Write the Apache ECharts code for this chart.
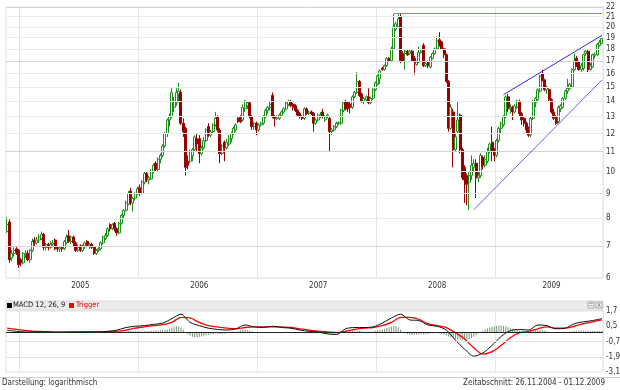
<!DOCTYPE html>
<html><head><meta charset="utf-8">
<script src="https://cdn.jsdelivr.net/npm/echarts@6/dist/echarts.min.js"></script>
<style>html,body{margin:0;padding:0;background:#fff}#c{width:620px;height:390px}</style>
</head><body><div id="c"></div>
<script>
// weekly candles, 26.11.2004 - 01.12.2009
const startDate = [2004, 10, 26];
const opens = [
7.5,7.85,6.6,6.75,6.9,6.85,6.55,6.45,6.7,6.75,
6.55,6.85,7.2,7.1,7.2,7.25,7.4,6.95,7.05,6.95,
7.05,7.2,6.95,6.9,6.95,6.9,7.1,7.35,7.15,7.3,
7.1,6.85,7.0,6.85,7.0,7.15,7.0,7.05,6.95,6.75,
6.85,6.9,7.1,7.25,7.35,7.75,7.6,7.8,7.6,7.45,
7.8,8.1,8.3,8.55,9.1,8.6,8.8,9.0,9.25,9.0,
9.5,9.9,9.6,9.65,10.0,10.4,10.1,10.6,10.8,11.3,
12.0,12.8,13.0,13.6,13.9,14.5,14.6,12.6,12.3,10.5,
10.5,10.8,11.1,11.7,11.7,10.9,11.2,11.6,12.4,11.9,
12.1,12.5,13.0,12.2,10.9,11.5,11.2,11.4,11.7,12.0,
12.2,12.9,13.0,12.8,13.5,13.7,13.9,13.0,12.4,12.6,
12.2,12.5,12.6,13.0,13.4,13.6,14.4,13.0,12.9,12.9,
13.1,13.3,13.5,13.8,14.0,13.8,13.7,13.4,13.2,13.0,
12.9,13.5,13.2,13.3,13.2,12.6,12.8,13.0,13.3,12.8,
13.0,12.9,12.1,12.2,12.4,12.6,12.6,13.4,14.0,13.9,
13.8,13.6,14.3,14.6,15.4,14.5,14.0,14.1,14.3,13.9,
14.2,14.8,15.2,15.6,16.4,16.3,16.6,17.2,17.0,18.0,
19.8,20.0,21.0,17.6,17.6,17.8,17.6,17.8,17.2,16.7,
16.9,17.7,18.3,16.6,16.9,16.5,17.2,17.6,18.0,18.8,
18.6,18.0,17.5,15.4,12.3,13.3,11.1,12.1,13.1,11.1,
10.2,9.8,9.5,9.8,10.2,10.4,9.7,9.8,10.7,10.3,
10.5,11.0,11.5,11.1,10.8,11.6,12.3,12.5,13.0,14.3,
13.5,13.6,13.3,13.6,14.0,13.2,12.9,12.6,12.3,11.9,
12.9,13.9,14.1,14.7,16.0,15.5,14.8,14.8,14.1,13.3,
13.0,12.7,13.5,13.6,14.2,14.7,14.9,15.0,16.3,17.2,
16.9,16.3,16.4,17.6,17.8,16.3,16.5,17.4,17.5,18.3,
18.5];
const closes = [
7.75,6.55,6.75,6.85,6.8,6.4,6.45,6.75,6.75,6.55,
6.85,7.15,7.1,7.2,7.3,7.4,6.95,7.05,6.95,7.05,
7.1,6.9,6.9,6.95,6.9,7.15,7.3,7.15,7.3,7.1,
6.85,6.95,6.85,7.0,7.1,7.0,7.05,6.95,6.75,6.85,
6.9,7.1,7.3,7.35,7.6,7.6,7.75,7.6,7.45,7.8,
8.1,8.3,8.6,9.0,8.6,8.8,9.0,9.2,9.0,9.5,
9.9,9.6,9.7,10.0,10.3,10.1,10.6,10.8,11.3,12.0,
12.8,13.0,14.6,14.0,14.6,14.7,12.6,12.1,10.2,10.3,
11.0,11.1,11.8,11.4,10.9,11.2,11.6,12.2,11.9,12.1,
12.5,12.9,12.2,10.9,11.3,11.2,11.5,11.7,12.0,12.3,
12.5,12.7,12.7,13.6,14.0,13.9,13.0,12.4,12.6,12.2,
12.5,12.6,13.0,13.4,13.6,13.8,13.0,12.9,13.0,13.1,
13.3,13.5,13.9,14.0,13.7,13.6,13.4,13.1,13.0,12.9,
13.5,13.2,13.3,13.2,12.6,12.8,13.1,13.1,13.0,13.0,
13.1,12.1,12.2,12.4,12.6,12.65,13.4,13.9,13.5,13.5,
13.6,14.3,14.6,15.4,14.4,14.0,14.2,14.3,13.9,14.2,
14.8,15.3,15.8,16.2,16.3,16.6,17.2,17.0,18.0,20.0,
20.3,20.8,17.0,17.0,17.8,17.5,17.8,17.0,16.9,16.9,
17.7,17.8,16.6,16.8,16.6,17.3,17.6,18.0,18.7,18.4,
18.0,17.5,15.4,12.3,13.6,11.1,11.8,12.8,11.1,9.7,
9.6,9.4,9.8,10.3,10.4,9.7,9.8,10.8,10.3,10.6,
11.0,11.4,11.0,10.8,11.6,12.3,12.6,13.0,14.3,13.5,
13.6,13.3,13.7,14.0,13.2,12.8,12.6,12.2,11.9,12.9,
14.0,14.2,14.8,15.8,15.5,14.8,15.0,14.1,13.3,12.9,
12.6,13.6,13.7,14.2,14.7,14.9,15.2,16.3,17.0,16.6,
16.3,16.6,17.5,17.8,16.3,16.6,17.5,17.5,18.4,18.6,
18.9];
const lows = [
7.45,6.45,6.5,6.65,6.7,6.3,6.35,6.4,6.6,6.5,
6.45,6.8,7.0,7.05,7.1,7.2,6.85,6.85,6.85,6.9,
6.95,6.85,6.8,6.8,6.8,6.85,7.05,7.1,7.05,7.0,
6.8,6.8,6.8,6.8,6.9,6.95,6.9,6.9,6.7,6.7,
6.8,6.85,7.05,7.2,7.3,7.5,7.55,7.5,7.35,7.4,
7.75,8.0,8.25,8.5,8.5,8.25,8.7,8.95,8.9,8.95,
9.4,9.5,9.4,9.6,9.9,10.0,10.0,10.4,10.7,11.2,
11.8,12.4,12.9,13.3,13.7,14.0,12.5,11.8,9.8,10.1,
10.4,10.5,11.0,11.0,10.4,10.8,11.1,11.5,11.8,11.8,
12.0,12.4,12.1,10.4,10.8,10.5,11.1,11.3,11.5,11.9,
12.1,12.6,12.6,12.7,13.3,13.5,12.9,12.2,12.2,11.9,
12.1,12.4,12.5,12.9,13.2,13.4,12.9,12.4,12.8,12.8,
13.0,13.2,13.4,13.7,13.6,13.4,13.3,13.0,12.9,12.8,
12.8,13.1,13.1,13.1,12.1,12.5,12.7,12.9,12.9,12.7,
12.9,11.0,11.9,12.1,12.3,12.5,12.5,13.3,13.4,13.3,
13.2,13.5,14.2,14.5,14.3,13.9,13.8,14.0,13.8,13.8,
14.1,14.7,15.1,15.2,16.2,16.2,16.5,16.9,16.9,17.9,
19.6,19.9,16.8,16.9,16.3,17.4,17.5,16.9,15.9,16.6,
16.8,17.6,16.5,16.5,16.4,16.4,17.1,17.5,17.9,18.2,
17.9,17.2,15.3,12.1,12.2,10.2,11.0,12.0,10.9,9.6,
8.6,8.5,8.3,9.6,10.0,8.8,9.5,9.7,10.1,10.2,
10.4,10.9,10.5,10.5,10.7,11.5,12.0,12.4,12.9,13.3,
13.2,12.8,13.2,13.5,13.0,12.5,12.4,12.0,11.8,11.8,
12.8,13.6,14.0,14.6,15.4,14.7,14.5,14.0,13.2,12.8,
12.5,12.6,13.3,13.5,14.1,14.5,14.8,14.9,16.2,16.5,
16.2,16.1,16.2,17.4,16.1,16.2,16.4,17.2,17.4,18.2,
18.4];
const highs = [
8.05,7.95,6.85,6.95,7.0,6.9,6.6,6.8,6.85,6.85,
6.9,7.25,7.3,7.3,7.4,7.5,7.45,7.1,7.1,7.15,
7.2,7.25,7.0,7.0,7.0,7.2,7.4,7.55,7.35,7.35,
7.15,7.05,7.05,7.05,7.15,7.2,7.1,7.1,7.0,6.9,
6.95,7.15,7.35,7.45,7.65,7.8,7.8,7.85,7.65,7.85,
8.15,8.35,8.7,9.1,9.25,8.85,9.05,9.3,9.4,9.6,
10.0,10.0,9.8,10.1,10.4,10.5,10.7,10.9,11.4,12.1,
12.9,13.2,14.9,14.3,14.9,15.3,14.8,12.9,12.4,10.8,
11.1,11.2,11.9,12.0,11.9,11.3,11.8,12.3,12.6,12.2,
12.6,13.3,13.1,12.3,11.4,11.6,11.7,11.9,12.1,12.4,
12.6,13.0,13.1,13.8,14.1,14.0,14.0,13.1,12.7,12.7,
12.6,12.7,13.1,13.5,13.7,14.0,14.6,13.1,13.1,13.2,
13.4,13.6,14.0,14.1,14.1,13.9,13.8,13.5,13.3,13.1,
13.6,13.6,13.4,13.4,13.3,12.9,13.2,13.3,13.5,13.1,
13.2,13.0,12.3,12.5,12.7,12.7,13.5,14.0,14.1,14.0,
14.0,14.4,14.7,16.1,15.5,14.6,14.3,14.4,14.9,14.3,
14.9,15.4,15.9,16.3,16.5,16.7,17.3,17.3,18.2,21.3,
20.5,21.3,21.3,17.8,17.9,17.9,17.9,17.9,17.4,17.0,
18.2,17.9,18.5,16.9,17.0,17.4,17.7,18.1,19.1,19.5,
18.7,18.1,17.6,15.5,13.8,13.5,12.0,14.0,13.2,11.2,
10.3,9.9,10.0,10.8,10.6,10.6,10.0,10.9,10.8,10.8,
11.2,11.5,12.4,11.2,11.7,12.4,12.7,13.1,14.4,14.5,
13.8,13.7,13.8,14.1,14.1,13.3,13.0,12.7,12.4,13.0,
14.1,14.3,14.9,15.9,16.3,15.6,15.1,14.9,14.2,13.5,
13.1,13.7,13.8,14.3,14.8,15.6,15.3,16.4,17.6,17.4,
17.0,16.8,17.6,17.9,17.9,16.8,17.6,17.7,18.5,18.8,
19.1];
// MACD panel, read every 4th week
const macdStep = 4;
const macdLine = [0.18,0.1,0.05,0.05,0.05,0.03,0.02,0.05,0.05,0.06,
0.05,0.1,0.2,0.4,0.5,0.55,0.65,0.75,1.1,1.45,
0.8,0.55,0.35,0.25,0.2,0.3,0.6,0.45,0.4,0.5,
0.4,0.35,0.2,0.1,0.05,-0.1,-0.15,0.3,0.4,0.4,
0.45,0.75,1.15,1.45,1.0,0.95,0.6,0.5,0.2,-0.6,
-1.3,-1.85,-1.6,-1.0,-0.3,0.15,0.25,0.2,0.6,0.55,
0.3,0.35,0.7,0.85,0.95,1.1];
const triggerLine = [0.36,0.25,0.15,0.1,0.08,0.06,0.05,0.05,0.05,0.06,
0.06,0.07,0.1,0.2,0.35,0.45,0.55,0.62,0.8,1.2,
1.15,0.8,0.55,0.45,0.35,0.3,0.4,0.45,0.45,0.45,
0.45,0.4,0.3,0.2,0.12,0.05,0.0,0.1,0.25,0.35,
0.4,0.55,0.8,1.2,1.2,1.05,0.7,0.55,0.4,0.0,
-0.5,-1.2,-1.7,-1.5,-1.0,-0.4,0.0,0.1,0.3,0.45,
0.35,0.35,0.5,0.7,0.85,1.0];
const histogram = [
0.05,0.04,0.03,0.03,0.02,0.02,0.02,0.02,0.02,0.02,
0.02,0.03,0.03,0.03,0.03,0.02,0.02,0.02,0.02,0.02,
0.02,0.02,0.02,0.02,0.02,0.02,0.02,0.02,0.02,0.02,
0.02,0.02,0.02,0.02,0.02,0.02,0.02,0.02,0.02,0.02,
0.02,0.02,0.03,0.04,0.05,0.06,0.07,0.08,0.08,0.09,
0.1,0.1,0.11,0.12,0.12,0.12,0.12,0.11,0.11,0.1,
0.1,0.11,0.12,0.14,0.15,0.16,0.17,0.18,0.2,0.22,
0.25,0.3,0.38,0.45,0.5,0.48,0.4,0.25,0.05,-0.12,
-0.25,-0.33,-0.38,-0.38,-0.35,-0.3,-0.25,-0.2,-0.16,-0.13,
-0.1,-0.08,-0.08,-0.1,-0.1,-0.08,-0.06,-0.04,-0.02,0,
0.04,0.1,0.16,0.22,0.24,0.22,0.16,0.1,0.05,0.02,
0,0.01,0.02,0.04,0.05,0.05,0.02,0,-0.02,-0.02,
-0.02,-0.02,-0.01,0,0,-0.02,-0.04,-0.05,-0.06,-0.06,
-0.05,-0.05,-0.05,-0.05,-0.06,-0.07,-0.08,-0.08,-0.08,-0.09,
-0.1,-0.12,-0.12,-0.1,-0.05,0.02,0.08,0.14,0.18,0.2,
0.2,0.18,0.16,0.14,0.12,0.1,0.08,0.07,0.07,0.08,
0.1,0.14,0.18,0.22,0.26,0.3,0.36,0.42,0.48,0.52,
0.5,0.4,0.25,0.08,-0.05,-0.12,-0.16,-0.18,-0.18,-0.16,
-0.14,-0.12,-0.12,-0.12,-0.1,-0.08,-0.06,-0.06,-0.06,-0.08,
-0.12,-0.16,-0.22,-0.3,-0.38,-0.45,-0.5,-0.55,-0.58,-0.6,
-0.58,-0.55,-0.5,-0.42,-0.32,-0.2,-0.08,0.05,0.15,0.25,
0.33,0.4,0.46,0.5,0.54,0.55,0.55,0.52,0.48,0.42,
0.36,0.3,0.25,0.2,0.16,0.12,0.1,0.08,0.08,0.1,
0.14,0.18,0.2,0.2,0.18,0.14,0.1,0.05,0,-0.04,
-0.05,-0.04,-0.02,0,0.03,0.06,0.08,0.1,0.13,0.15,
0.16,0.16,0.16,0.15,0.14,0.13,0.13,0.12,0.12,0.12,
0.12];
const priceTicks = [6,7,8,9,10,11,12,13,14,15,16,17,18,19,20,21,22];
const majorPriceTicks = [7,11,17,22];
const macdTicks = [1.7,0.5,-0.7,-1.9,-3.1];
const macdTickLabels = ['1,7','0,5','-0,7','-1,9','-3,1'];
const macdGridTicks = [-0.7,-1.9];
// trendlines: [weekIndex, price]
const resistanceLine = [[169,21.37],[260,21.37]];
const channelUpper = [[217,14.45],[260,19.2]];
const channelLower = [[204,8.32],[260,15.5]];

const FONT = "'Liberation Sans Narrow','DejaVu Sans Condensed',Arial,sans-serif";
const dates = [];
const dObjs = [];
{
  let t = Date.UTC(startDate[0], startDate[1], startDate[2]);
  for (let i = 0; i < closes.length; i++) {
    const d = new Date(t);
    dObjs.push(d);
    const dd = String(d.getUTCDate()).padStart(2,'0'), mm = String(d.getUTCMonth()+1).padStart(2,'0');
    dates.push(dd + '.' + mm + '.' + d.getUTCFullYear());
    t += 7 * 86400000;
  }
}
const isYearStart = i => i > 0 && i < dObjs.length && dObjs[i].getUTCFullYear() !== dObjs[i-1].getUTCFullYear();
// year label sits at the middle of each year's visible span
const labelIdx = new Set();
{
  const span = {};
  dObjs.forEach((d, i) => { const y = d.getUTCFullYear(); if (!span[y]) span[y] = [i, i]; span[y][1] = i; });
  Object.keys(span).forEach(y => { const s = span[y]; if (s[1] - s[0] > 20) labelIdx.add(Math.round((s[0] + s[1] + 1) / 2)); });
}

const ohlc = dates.map((d, i) => [opens[i], closes[i], lows[i], highs[i]]);
const macdData = macdLine.map((v, k) => [k * macdStep, v]);
const trigData = triggerLine.map((v, k) => [k * macdStep, v]);

const chart = echarts.init(document.getElementById('c'), null, {renderer: 'canvas'});
const gridLineStyle = {color: '#e6e6e6', width: 1, type: 'solid'};
chart.setOption({
  animation: false,
  backgroundColor: '#ffffff',
  textStyle: {fontFamily: FONT},
  grid: [
    {left: 6, right: 17, top: 7, height: 271, show: true, borderColor: '#e2e2e2', borderWidth: 1},
    {left: 6, right: 17, top: 311, height: 61, show: true, borderColor: '#e2e2e2', borderWidth: 1}
  ],
  xAxis: [
    {type: 'category', gridIndex: 0, data: dates, boundaryGap: true,
     axisLine: {show: false}, axisTick: {show: false},
     axisLabel: {interval: (i) => labelIdx.has(i), formatter: v => v.slice(6), fontSize: 8, color: '#333', margin: 4, fontFamily: FONT},
     splitLine: {show: true, interval: (i) => isYearStart(i), lineStyle: gridLineStyle}},
    {type: 'category', gridIndex: 1, data: dates, boundaryGap: true,
     axisLine: {show: false}, axisTick: {show: false}, axisLabel: {show: false},
     splitLine: {show: true, interval: (i) => isYearStart(i), lineStyle: gridLineStyle}}
  ],
  yAxis: [
    {type: 'log', logBase: 10, gridIndex: 0, min: 6, max: 22, position: 'right',
     axisLine: {show: false}, axisTick: {show: false}, axisLabel: {show: false}, splitLine: {show: false}},
    {type: 'value', gridIndex: 1, min: -3.1, max: 1.7, position: 'right',
     axisLine: {show: false}, axisTick: {show: false}, axisLabel: {show: false}, splitLine: {show: false}}
  ],
  series: [
    {type: 'line', xAxisIndex: 0, yAxisIndex: 0, data: [], z: 1, silent: true,
     markLine: {silent: true, symbol: ['none','none'], animation: false,
       label: {position: 'end', distance: 3, fontSize: 8, color: '#333', fontFamily: FONT, formatter: p => String(p.value)},
       data: priceTicks.map(v => ({yAxis: v, lineStyle: {color: majorPriceTicks.includes(v) ? '#d4d4d4' : '#ebebeb', width: 1, type: 'solid'}}))}},
    {type: 'candlestick', xAxisIndex: 0, yAxisIndex: 0, data: ohlc, z: 3, barWidth: 2.5,
     itemStyle: {color: '#ffffff', color0: '#990000', borderColor: '#1d8f1d', borderColor0: '#990000', borderWidth: 1}},
    {type: 'line', xAxisIndex: 0, yAxisIndex: 0, data: [], z: 5, silent: true,
     markLine: {silent: true, symbol: ['none','none'], animation: false, label: {show: false},
       data: [
         [{coord: resistanceLine[0], lineStyle: {color: '#8080ff', width: 1.2, type: 'solid'}}, {coord: resistanceLine[1]}],
         [{coord: channelUpper[0], lineStyle: {color: '#2a2ae6', width: 1, type: 'solid'}}, {coord: channelUpper[1]}],
         [{coord: channelLower[0], lineStyle: {color: '#6464ff', width: 1, type: 'solid'}}, {coord: channelLower[1]}]
       ]}},
    {type: 'line', xAxisIndex: 1, yAxisIndex: 1, data: [], z: 1, silent: true,
     markLine: {silent: true, symbol: ['none','none'], animation: false,
       label: {position: 'end', distance: 3, fontSize: 8, color: '#333', fontFamily: FONT},
       data: macdTicks.map((v, k) => ({yAxis: v,
         label: {show: true, formatter: macdTickLabels[k], color: '#333'},
         lineStyle: macdGridTicks.includes(v) ? {color: '#e2e2e2', width: 1, type: 'solid'} : {color: 'rgba(255,255,255,0)', width: 1, type: 'solid'}}))
         .concat([{yAxis: 0, label: {show: false}, lineStyle: {color: '#222', width: 1.2, type: 'solid'}}])}},
    {type: 'bar', xAxisIndex: 1, yAxisIndex: 1, data: histogram, barWidth: 1, z: 2,
     itemStyle: {color: '#789878'}},
    {type: 'line', xAxisIndex: 1, yAxisIndex: 1, data: trigData, z: 3, symbol: 'none', smooth: 0.3,
     lineStyle: {color: '#ff0000', width: 1.3}},
    {type: 'line', xAxisIndex: 1, yAxisIndex: 1, data: macdData, z: 4, symbol: 'none', smooth: 0.3,
     lineStyle: {color: '#111', width: 1}}
  ],
  graphic: [
    {type: 'rect', shape: {x: 6, y: 301, width: 597, height: 9}, style: {fill: '#ececec', stroke: '#dcdcdc', lineWidth: 1}},
    {type: 'rect', shape: {x: 7, y: 303, width: 5, height: 5}, style: {fill: '#000'}},
    {type: 'text', x: 13, y: 305.5, style: {text: 'MACD 12, 26, 9', fontSize: 7.5, fill: '#111', fontFamily: FONT, verticalAlign: 'middle'}},
    {type: 'rect', shape: {x: 69, y: 303, width: 5, height: 5}, style: {fill: '#ff0000'}},
    {type: 'text', x: 76, y: 305.5, style: {text: 'Trigger', fontSize: 7.5, fill: '#e00000', fontFamily: FONT, verticalAlign: 'middle'}},
    {type: 'rect', shape: {x: 588, y: 302, width: 6, height: 6}, style: {fill: '#f6f6f6', stroke: '#aaa', lineWidth: 1}},
    {type: 'text', x: 591, y: 305, style: {text: '=', fontSize: 7, fill: '#666', align: 'center', verticalAlign: 'middle'}},
    {type: 'rect', shape: {x: 596, y: 302, width: 6, height: 6}, style: {fill: '#f6f6f6', stroke: '#aaa', lineWidth: 1}},
    {type: 'text', x: 599, y: 305, style: {text: 'x', fontSize: 7, fill: '#666', align: 'center', verticalAlign: 'middle'}},
    {type: 'line', shape: {x1: 0, y1: 377.5, x2: 620, y2: 377.5}, style: {stroke: '#d0d0d0', lineWidth: 1}},
    {type: 'text', x: 2, y: 383, style: {text: 'Darstellung: logarithmisch', fontSize: 8, fill: '#333', fontFamily: FONT, verticalAlign: 'middle'}},
    {type: 'text', x: 605, y: 383, style: {text: 'Zeitabschnitt: 26.11.2004 - 01.12.2009', fontSize: 8, fill: '#333', fontFamily: FONT, align: 'right', verticalAlign: 'middle'}}
  ]
});
</script>
</body></html>
